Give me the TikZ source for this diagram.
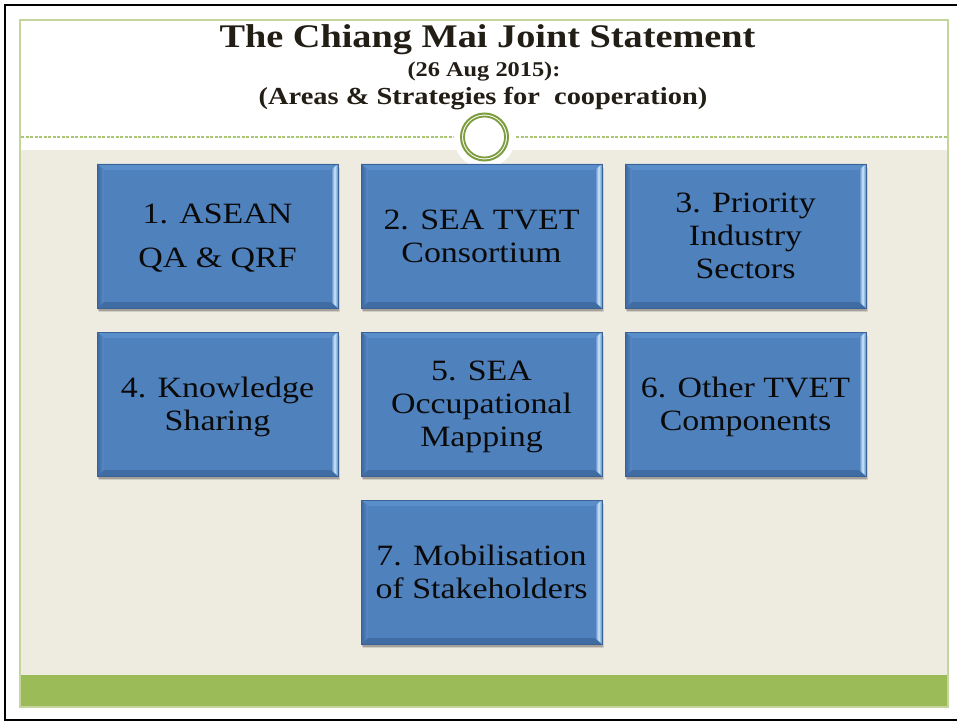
\documentclass[tikz,border=0pt]{standalone}
\usepackage{fontspec}
\setmainfont{Liberation Serif}
\usetikzlibrary{shadows}
\newcommand\wtext[1]{\raisebox{-3pt}[\height][\depth]{\scalebox{1.15}[1]{\begin{tabular}{@{}c@{}}#1\end{tabular}}}}
\newcommand\wline[1]{\scalebox{1.16}[1]{#1}}
\definecolor{beige}{RGB}{238,236,225}
\definecolor{greenbar}{RGB}{155,187,89}
\definecolor{borderg}{RGB}{196,214,158}
\definecolor{dashg}{RGB}{170,198,115}
\definecolor{ringg}{RGB}{125,156,62}
\definecolor{titlecol}{RGB}{34,30,22}
\definecolor{textcol}{RGB}{10,10,10}
\definecolor{tileblue}{RGB}{79,129,189}
\definecolor{tileedge}{RGB}{58,98,150}
\definecolor{tiletop}{RGB}{90,142,202}
\definecolor{tileleftA}{RGB}{60,102,158}
\definecolor{tileleftB}{RGB}{88,140,200}
\definecolor{tilehl}{RGB}{205,232,252}
\definecolor{tilebot}{RGB}{64,108,164}
\begin{document}
\begin{tikzpicture}[x=1pt,y=-1pt,
  tile/.style={rectangle, minimum width=241pt, minimum height=144pt, inner sep=0pt,
    fill=tileblue, draw=tileedge, line width=0.8pt, align=center, text=textcol,
    font=\fontsize{29.5}{33}\selectfont,
    drop shadow={shadow xshift=2pt, shadow yshift=-4pt, fill=black, opacity=0.12},
    drop shadow={shadow xshift=1pt, shadow yshift=-2.5pt, fill=black, opacity=0.22},
    path picture={
      \fill[tiletop] (path picture bounding box.north west) -- (path picture bounding box.north east)
        -- ([xshift=-7pt,yshift=-6pt]path picture bounding box.north east)
        -- ([xshift=7pt,yshift=-6pt]path picture bounding box.north west) -- cycle;
      \fill[tilebot] (path picture bounding box.south west) -- (path picture bounding box.south east)
        -- ([xshift=-7pt,yshift=6pt]path picture bounding box.south east)
        -- ([xshift=7pt,yshift=6pt]path picture bounding box.south west) -- cycle;
      \shade[left color=tileleftA, right color=tileleftB]
        (path picture bounding box.north west)
        -- ([xshift=7pt,yshift=-6pt]path picture bounding box.north west)
        -- ([xshift=7pt,yshift=6pt]path picture bounding box.south west)
        -- (path picture bounding box.south west) -- cycle;
      \shade[left color=tileblue, right color=tileleftB, middle color=tilehl]
        (path picture bounding box.north east)
        -- ([xshift=-7pt,yshift=-6pt]path picture bounding box.north east)
        -- ([xshift=-7pt,yshift=6pt]path picture bounding box.south east)
        -- (path picture bounding box.south east) -- cycle;
    }},
  titlefont/.style={anchor=base, text=titlecol}
]
\useasboundingbox (0,0) rectangle (957,722);
\fill[white] (0,0) rectangle (957,722);
\draw[black, line width=2pt] (960,5) -- (5,5) -- (5,720) -- (960,720);
\fill[beige] (20,150) rectangle (948,675);
\fill[greenbar] (20,675) rectangle (948,707);
\draw[borderg, line width=1.5pt] (20,20) rectangle (948,707);
\draw[dashg, dash pattern=on 3pt off 1.5pt, line width=1.2pt] (21,137) -- (947,137);
\fill[white] (484.5,137) circle[radius=31pt];
\node (ring) at (484.5,137) [circle, draw=ringg, line width=2pt, minimum size=47pt, inner sep=0pt] {};
\node (ringin) at (484.5,137) [circle, draw=ringg, line width=1.8pt, minimum size=41pt, inner sep=0pt] {};

\node[titlefont, font=\bfseries\fontsize{33}{36}\selectfont] (title) at (487.5,48) {\wline{The Chiang Mai Joint Statement}};
\node[titlefont, font=\bfseries\fontsize{21}{24}\selectfont] (date) at (484,77) {\wline{(26 Aug 2015):}};
\node[titlefont, font=\bfseries\fontsize{24.5}{28}\selectfont] (sub) at (483,105) {\wline{(Areas \& Strategies for\ \ cooperation)}};

\node[tile] (b1) at (217.5,236) {\wtext{1. ASEAN\\[11pt]QA \& QRF}};
\node[tile] (b2) at (481.5,236) {\wtext{2. SEA TVET\\Consortium}};
\node[tile] (b3) at (745.5,236) {\wtext{3. Priority\\Industry\\Sectors}};
\node[tile] (b4) at (217.5,404) {\wtext{4. Knowledge\\Sharing}};
\node[tile] (b5) at (481.5,404) {\wtext{5. SEA\\Occupational\\Mapping}};
\node[tile] (b6) at (745.5,404) {\wtext{6. Other TVET\\Components}};
\node[tile] (b7) at (481.5,572) {\wtext{7. Mobilisation\\of Stakeholders}};
\end{tikzpicture}
\end{document}
